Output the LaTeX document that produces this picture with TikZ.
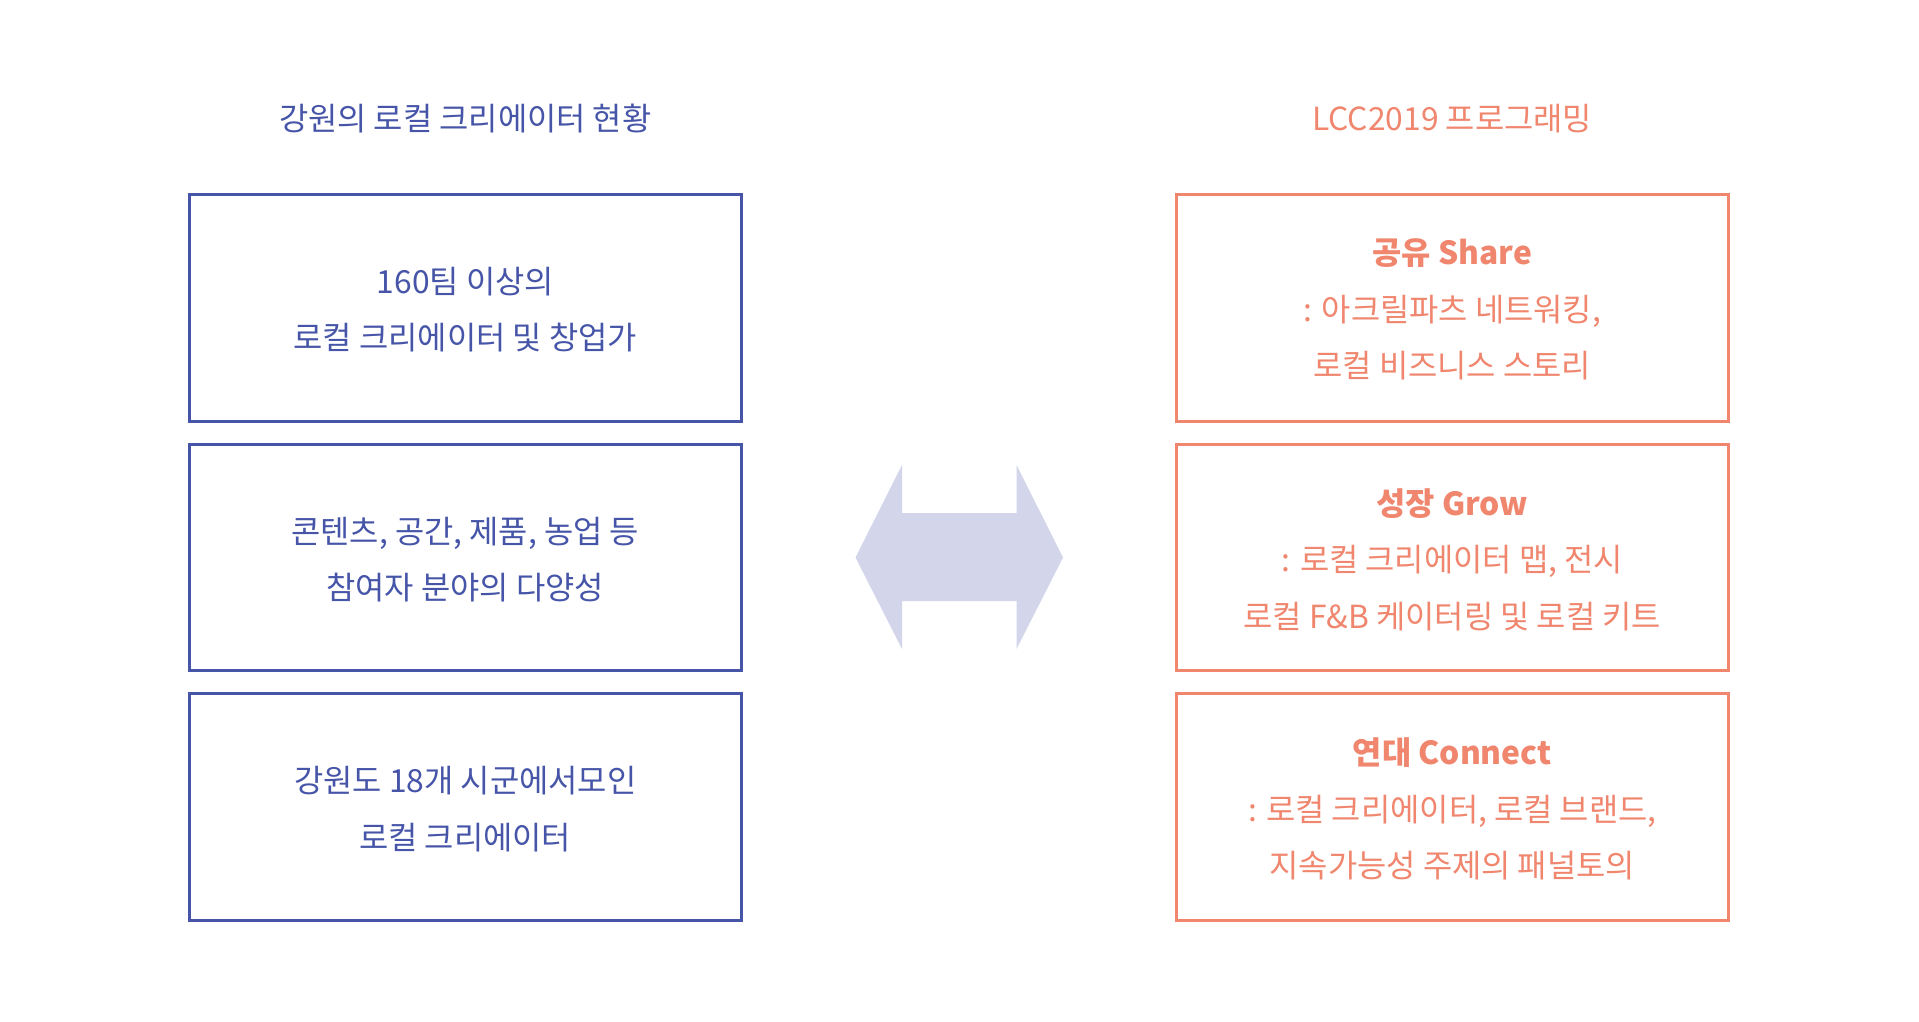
\documentclass[tikz,border=0pt]{standalone}
\usepackage{fontspec}
\setmainfont{Noto Sans CJK KR}
\definecolor{cblue}{HTML}{4655A8}
\definecolor{corange}{HTML}{F0866E}
\definecolor{carrow}{HTML}{D3D6EA}
\tikzset{
  txt/.style={font=\fontsize{31.8pt}{56.5pt}\selectfont, align=center, inner sep=0pt},
  boxframe/.style={line width=3pt, minimum width=551.5pt, minimum height=226.5pt, inner sep=0pt},
  bluebox/.style={boxframe, draw=cblue},
  orangebox/.style={boxframe, draw=corange},
  bluetxt/.style={txt, text=cblue},
  orangetxt/.style={txt, text=corange},
}
\begin{document}
\begin{tikzpicture}[x=1pt,y=-1pt]
\useasboundingbox[fill=white] (0,0) rectangle (1919,1021);
\node[bluetxt] (tl) at (465.25,118.5) {강원의 로컬 크리에이터 현황};
\node[orangetxt] (tr) at (1452.25,118.5) {LCC2019 프로그래밍};

\node[bluebox] (l1) at (465.25,307.75) {};
\node[bluebox] (l2) at (465.25,557.5) {};
\node[bluebox] (l3) at (465.25,807) {};
\node[bluetxt] (l1t) at ([yshift=-2pt]l1.center) {160팀 이상의\\로컬 크리에이터 및 창업가};
\node[bluetxt] (l2t) at ([yshift=-2pt]l2.center) {콘텐츠, 공간, 제품, 농업 등\\참여자 분야의 다양성};
\node[bluetxt] (l3t) at ([yshift=-2pt]l3.center) {강원도 18개 시군에서모인\\로컬 크리에이터};

\node[orangebox] (r1) at (1452.25,307.75) {};
\node[orangebox] (r2) at (1452.25,557.5) {};
\node[orangebox] (r3) at (1452.25,807) {};
\node[orangetxt] (r1t) at ([yshift=-2pt]r1.center) {\textbf{공유 Share}\\: 아크릴파츠 네트워킹,\\로컬 비즈니스 스토리};
\node[orangetxt] (r2t) at ([yshift=-2pt]r2.center) {\textbf{성장 Grow}\\: 로컬 크리에이터 맵, 전시\\로컬 F\&B 케이터링 및 로컬 키트};
\node[orangetxt] (r3t) at ([yshift=-2pt]r3.center) {\textbf{연대 Connect}\\: 로컬 크리에이터, 로컬 브랜드,\\지속가능성 주제의 패널토의};

\fill[carrow] (855.5,557.5) -- (902,465) -- (902,513) -- (1016.5,513) -- (1016.5,465)
  -- (1063,557.5) -- (1016.5,649) -- (1016.5,601) -- (902,601) -- (902,649) -- cycle;
\end{tikzpicture}
\end{document}
